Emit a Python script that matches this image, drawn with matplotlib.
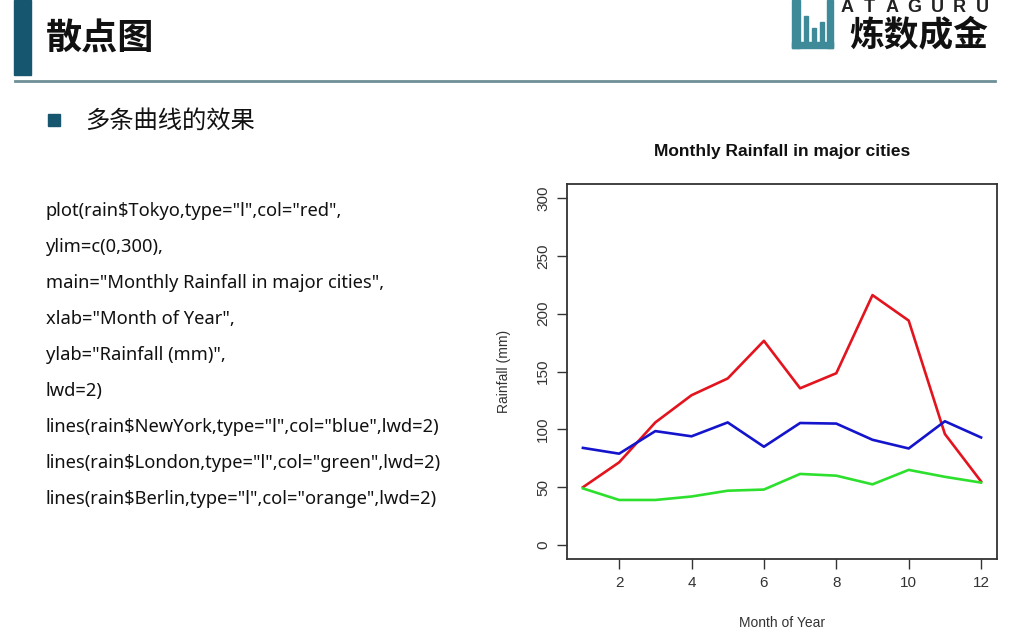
import matplotlib
matplotlib.use("Agg")
import matplotlib.pyplot as plt
from matplotlib.patches import Rectangle

plt.rcParams['font.family'] = ['Noto Sans CJK SC', 'DejaVu Sans']

# data
months = list(range(1, 13))
tokyo = [50, 71.5, 106, 129.5, 144, 176.5, 135.5, 148.5, 216, 194, 96, 55]
newyork = [84, 79, 98.5, 94, 106, 85, 105.5, 105, 91, 83.5, 107, 93]
london = [49, 39, 39, 42, 47, 48, 61.5, 60, 52.5, 65, 59, 54]
yticks = [0, 50, 100, 150, 200, 250, 300]
xticks = [2, 4, 6, 8, 10, 12]

code_lines = [
    'plot(rain$Tokyo,type="l",col="red",',
    'ylim=c(0,300),',
    'main="Monthly Rainfall in major cities",',
    'xlab="Month of Year",',
    'ylab="Rainfall (mm)",',
    'lwd=2)',
    'lines(rain$NewYork,type="l",col="blue",lwd=2)',
    'lines(rain$London,type="l",col="green",lwd=2)',
    'lines(rain$Berlin,type="l",col="orange",lwd=2)',
]

W, H = 1012, 635
fig = plt.figure(figsize=(W / 100, H / 100), dpi=100)
fig.patch.set_facecolor('white')

# whole-slide overlay axes in pixel coords (y down)
bg = fig.add_axes([0, 0, 1, 1])
bg.set_xlim(0, W)
bg.set_ylim(H, 0)
bg.axis('off')

# header
bg.add_patch(Rectangle((14, 0), 17, 75, color='#17566f'))
bg.text(46, 39, '散点图', fontsize=26, fontweight='bold', va='center', ha='left', color='#111111')
bg.plot([15, 995], [81, 81], color='#6e8f98', lw=2)

# logo
teal = '#3f8a98'
bg.add_patch(Rectangle((792, 0), 8, 48, color=teal))
bg.add_patch(Rectangle((792, 42), 41, 6, color=teal))
bg.add_patch(Rectangle((827, 0), 6, 48, color=teal))
bg.add_patch(Rectangle((804, 16), 4, 28, color=teal))
bg.add_patch(Rectangle((812, 28), 4, 16, color=teal))
bg.add_patch(Rectangle((820, 22), 4, 22, color=teal))
for i, ch in enumerate('ATAGURU'):
    bg.text(847 + i * 22.5, 8, ch, fontsize=13, fontweight='bold', color='#222222',
            va='center', ha='center', family=['Liberation Sans'])
bg.text(919, 35, '炼数成金', fontsize=25, fontweight='bold', color='#111111',
        va='center', ha='center')

# bullet
bg.add_patch(Rectangle((48, 114), 12, 12, color='#17566f'))
bg.text(85, 121, '多条曲线的效果', fontsize=17.5, va='center', ha='left', color='#111111')

# code text
code_y0 = 211
for i, line in enumerate(code_lines):
    bg.text(46, code_y0 + i * 36.0, line, fontsize=13.2, va='center', ha='left',
            color='#111111', family=['Noto Sans', 'DejaVu Sans'])

# R chart
ax = fig.add_axes([567 / W, 1 - 559 / H, 430 / W, 375 / H])
ax.plot(months, tokyo, color='#e3141e', lw=1.9)
ax.plot(months, newyork, color='#1414cc', lw=1.9)
ax.plot(months, london, color='#2ee02e', lw=1.9)
ax.set_xlim(0.56, 12.44)
ax.set_ylim(-12, 312)
ax.set_xticks(xticks)
ax.set_yticks(yticks)
ax.set_yticklabels([str(v) for v in yticks], rotation=90, va='center')
for s in ax.spines.values():
    s.set_color('#333333')
    s.set_linewidth(1.3)
ax.tick_params(direction='out', length=7, width=1, colors='#333333', labelsize=11,
               labelcolor='#333333', pad=5)
for lab in ax.get_xticklabels() + ax.get_yticklabels():
    lab.set_family(['Liberation Sans'])
ax.set_title('Monthly Rainfall in major cities', fontsize=12.5, fontweight='bold',
             family=['Liberation Sans'], pad=20, color='#111111')
ax.set_xlabel('Month of Year', fontsize=10, family=['Liberation Sans'], color='#333333', labelpad=19)
ax.set_ylabel('Rainfall (mm)', fontsize=10, family=['Liberation Sans'], color='#333333', labelpad=18)

fig.savefig('out.png', dpi=100)
